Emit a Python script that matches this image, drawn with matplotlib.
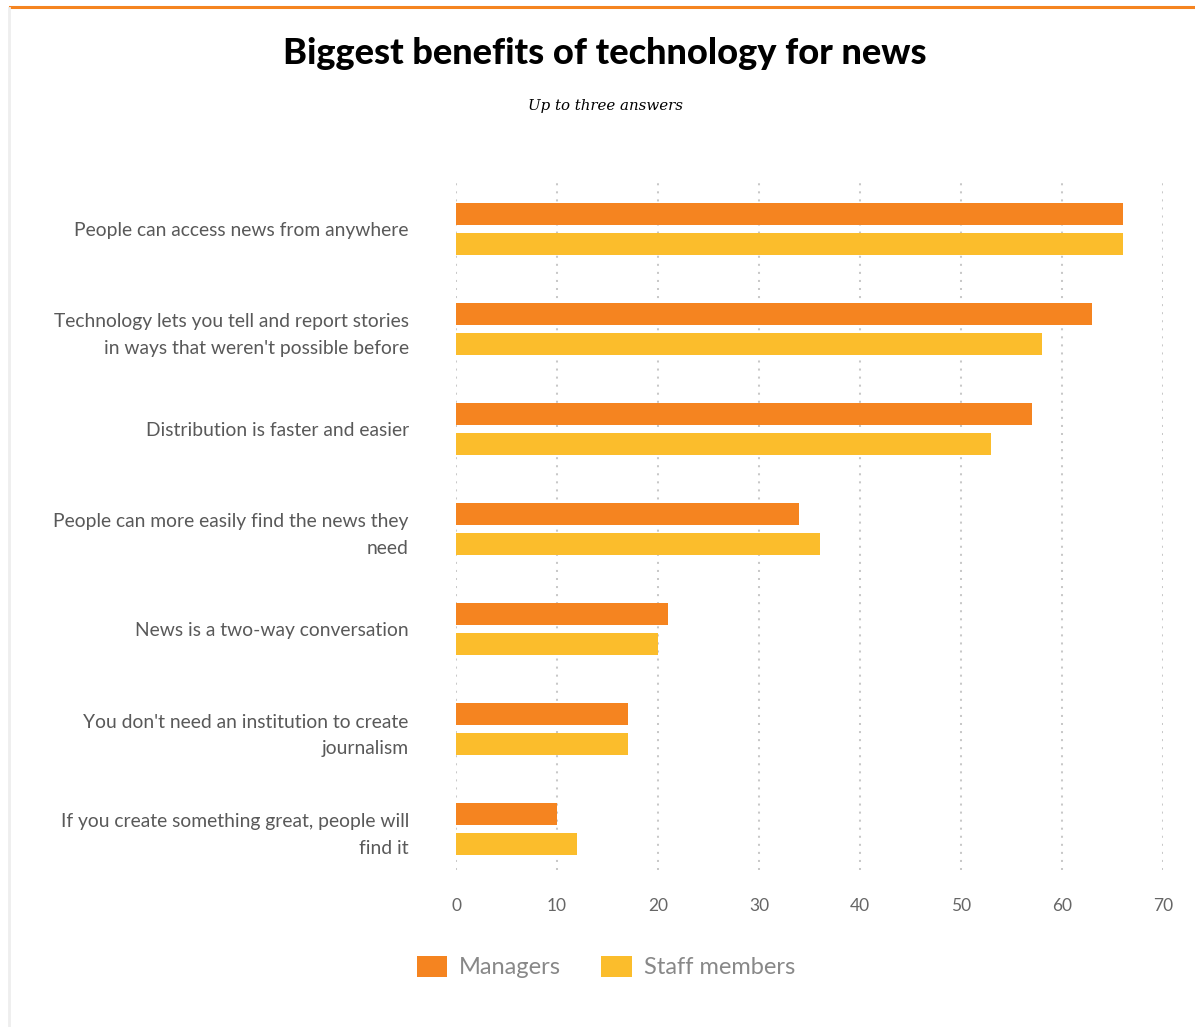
"""Horizontal grouped bar chart: biggest benefits of technology for news."""

import matplotlib.pyplot as plt
from matplotlib.lines import Line2D
import numpy as np

categories = [
    "People can access news from anywhere",
    "Technology lets you tell and report stories\nin ways that weren't possible before",
    "Distribution is faster and easier",
    "People can more easily find the news they\nneed",
    "News is a two-way conversation",
    "You don't need an institution to create\njournalism",
    "If you create something great, people will\nfind it",
]
managers = [66, 63, 57, 34, 21, 17, 10]
staff = [66, 58, 53, 36, 20, 17, 12]
series_names = ["Managers", "Staff members"]
x_ticks = [0, 10, 20, 30, 40, 50, 60, 70]

ORANGE = "#f58420"
YELLOW = "#fbbd2c"
W, H = 1195, 1027

plt.rcParams["font.family"] = ["Lato", "DejaVu Sans"]

fig = plt.figure(figsize=(W / 100, H / 100), dpi=100)

# page frame: orange rule on top, faint grey edge on the left
fig.add_artist(Line2D([10 / W, 1], [1 - 7 / H, 1 - 7 / H], color=ORANGE, lw=2.2,
                      transform=fig.transFigure))
fig.add_artist(Line2D([8.5 / W, 8.5 / W], [0, 1 - 8 / H], color="#eeeeee", lw=2,
                      transform=fig.transFigure))

fig.text(605 / W, 1 - 54 / H, "Biggest benefits of technology for news",
         ha="center", va="center", fontsize=26, fontweight="black", color="black")
fig.text(605 / W, 1 - 106 / H, "Up to three answers", ha="center", va="center",
         fontsize=10.8, style="italic", family=["DejaVu Serif"], color="black")

ax_left, ax_right = 456, 1163
ax_top, ax_bottom = 179, 870
ax = fig.add_axes([ax_left / W, 1 - ax_bottom / H, (ax_right - ax_left) / W,
                   (ax_bottom - ax_top) / H])

y = np.arange(len(categories))
bar_h = 0.22
b1 = ax.barh(y - 0.15, managers, height=bar_h, color=ORANGE, label=series_names[0], zorder=3)
b2 = ax.barh(y + 0.15, staff, height=bar_h, color=YELLOW, label=series_names[1], zorder=3)

ax.set_xlim(0, 70)
ax.set_ylim(6.41, -0.5)
ax.set_xticks(x_ticks)
ax.set_yticks(y)
ax.set_yticklabels(categories, fontsize=13.9, color="#595959", linespacing=1.65)
ax.tick_params(axis="y", length=0, pad=34)
ax.tick_params(axis="x", length=0, pad=20, labelsize=12.5, labelcolor="#666666")

ax.grid(axis="x", color="#c8c8c8", linestyle=(0, (1, 3)), linewidth=1.45, zorder=0)
for side in ax.spines.values():
    side.set_visible(False)

fig.legend(handles=[b1, b2], labels=series_names, loc="center",
           bbox_to_anchor=(606 / W, 1 - 967 / H), ncol=2, frameon=False,
           fontsize=17, labelcolor="#888888", handlelength=1.3, handleheight=1.0,
           handletextpad=0.5, columnspacing=1.7)

fig.savefig("out.png", dpi=100)
